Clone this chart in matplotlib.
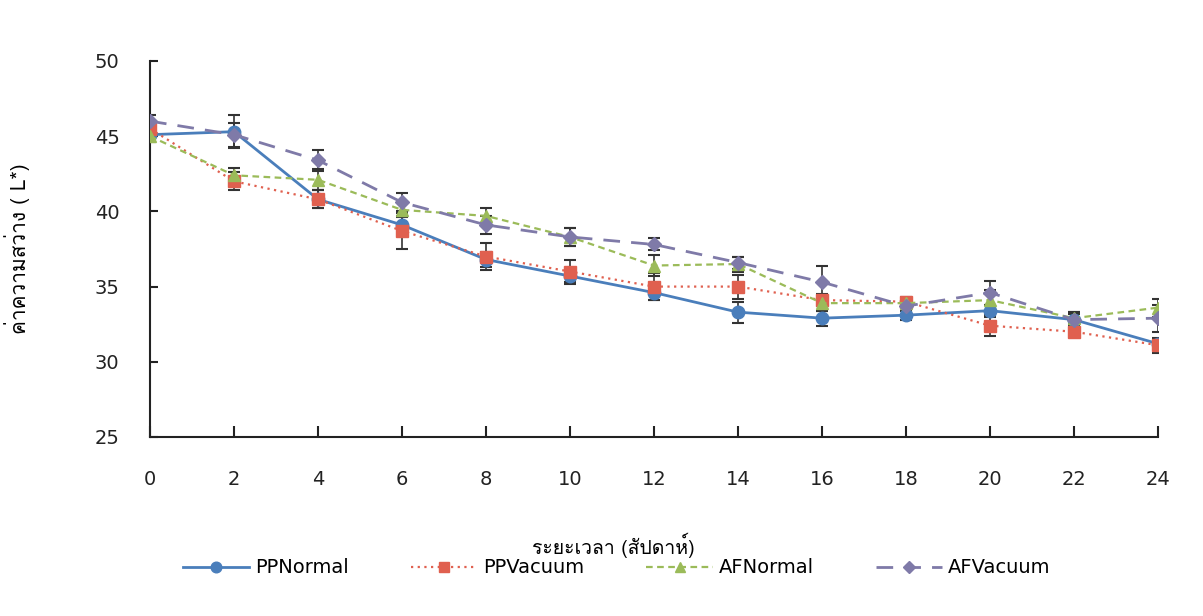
#!/usr/bin/env python3

"""
Lightness (L*) of stored samples over 24 weeks, four packaging treatments.
"""

import matplotlib
matplotlib.use('Agg')
from matplotlib import pyplot as plt
from matplotlib import font_manager
from matplotlib.ft2font import FT2Font


weeks = [0, 2, 4, 6, 8, 10, 12, 14, 16, 18, 20, 22, 24]

pp_normal = [45.1, 45.3, 40.8, 39.1, 36.8, 35.7, 34.6, 33.3, 32.9, 33.1, 33.4, 32.8, 31.2]
pp_normal_err = [0.4, 1.1, 0.6, 0.6, 0.5, 0.4, 0.5, 0.7, 0.5, 0.3, 0.4, 0.4, 0.3]

pp_vacuum = [45.5, 42.0, 40.8, 38.7, 37.0, 36.0, 35.0, 35.0, 34.1, 34.0, 32.4, 32.0, 31.1]
pp_vacuum_err = [0.4, 0.6, 0.6, 1.2, 0.9, 0.8, 0.9, 0.8, 0.4, 0.3, 0.7, 0.3, 0.5]

af_normal = [45.0, 42.4, 42.1, 40.1, 39.7, 38.3, 36.4, 36.5, 33.9, 33.9, 34.1, 32.9, 33.6]
af_normal_err = [0.4, 0.5, 0.7, 0.5, 0.5, 0.6, 0.7, 0.5, 0.5, 0.3, 0.7, 0.4, 0.6]

af_vacuum = [46.0, 45.1, 43.4, 40.6, 39.1, 38.3, 37.8, 36.6, 35.3, 33.7, 34.6, 32.8, 32.9]
af_vacuum_err = [0.4, 0.8, 0.7, 0.6, 0.6, 0.6, 0.4, 0.4, 1.1, 0.3, 0.8, 0.5, 0.9]

x_label = 'ระยะเวลา (สัปดาห์)'
y_label = 'ค่าความสว่าง ( L*)'


def thai_family():
    # pick the first installed font that actually has Thai glyphs
    for f in font_manager.fontManager.ttflist:
        try:
            if 0x0E04 in FT2Font(f.fname).get_charmap():
                return f.name
        except Exception:
            continue
    return 'DejaVu Sans'


thai = thai_family()
plt.rcParams['font.family'] = ['DejaVu Sans', thai]

fig = plt.figure(figsize=(12.03, 6.16), dpi=100)
ax = fig.add_axes([0.1247, 0.2906, 0.8379, 0.6104])

series = [
    ('PPNormal', pp_normal, pp_normal_err, '#4a7ebb', '-', 'o', 2.0),
    ('PPVacuum', pp_vacuum, pp_vacuum_err, '#e0604f', (0, (1, 2)), 's', 1.6),
    ('AFNormal', af_normal, af_normal_err, '#9bbb59', (0, (3, 2)), '^', 1.6),
    ('AFVacuum', af_vacuum, af_vacuum_err, '#7f7aa8', (0, (6, 4)), 'D', 2.0),
]

handles = []
names = []
for name, vals, err, col, ls, mk, lw in series:
    cont = ax.errorbar(weeks, vals, yerr=err, color=col, ls=ls, lw=lw,
                       marker=mk, ms=9 if mk != 'D' else 7, mec=col, mfc=col,
                       ecolor='#333333', elinewidth=1.2, capsize=4,
                       capthick=1.5, zorder=3)
    handles.append(cont[0])
    names.append(name)

ax.set_xlim(0, 24)
ax.set_ylim(25, 50)
ax.set_xticks(weeks)
ax.set_yticks([25, 30, 35, 40, 45, 50])
for s in ['top', 'right']:
    ax.spines[s].set_visible(False)
for s in ['left', 'bottom']:
    ax.spines[s].set_linewidth(1.5)
    ax.spines[s].set_color('#222222')
ax.tick_params(axis='x', direction='in', length=8, width=1.5, pad=24,
               labelsize=14, colors='#222222')
ax.tick_params(axis='y', direction='in', length=6, width=1.5, pad=22,
               labelsize=14, colors='#222222')

ax.set_xlabel(x_label, fontsize=14, family=[thai, 'DejaVu Sans'])
ax.xaxis.set_label_coords(0.46, -0.255)
ax.set_ylabel(y_label, fontsize=15, family=[thai, 'DejaVu Sans'])
ax.yaxis.set_label_coords(-0.119, 0.5)

ax.legend(handles, names, loc='center', bbox_to_anchor=(0.463, -0.348),
          ncol=4, frameon=False, fontsize=14, handlelength=3.4,
          columnspacing=3.2, handletextpad=0.3, markerscale=0.85)

fig.savefig('out.png', dpi=100)
